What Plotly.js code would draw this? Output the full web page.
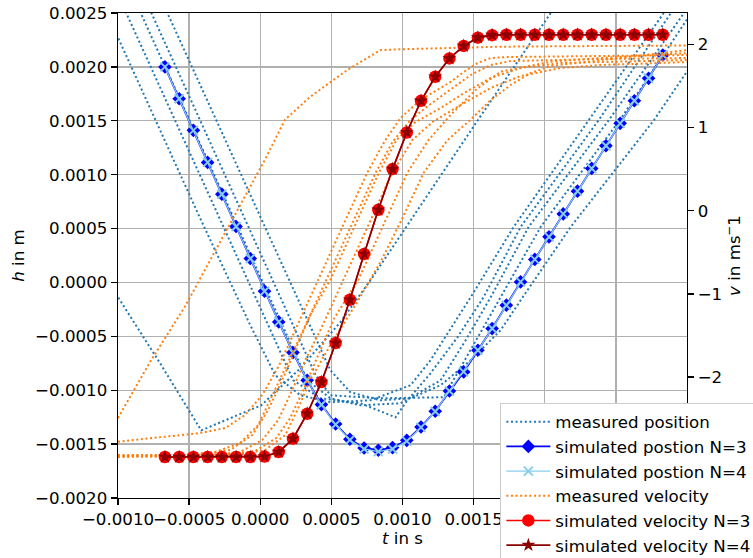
<!DOCTYPE html>
<html>
<head>
<meta charset="utf-8">
<script src="https://cdn.plot.ly/plotly-3.0.1.min.js"></script>
<style>html,body{margin:0;padding:0;background:#fff;}#chart{width:753px;height:558px;}</style>
</head>
<body>
<div id="chart"></div>
<script>
// ---------- simulated data ----------
const tSim = [-0.00067, -0.00057, -0.00047, -0.00037, -0.00027, -0.00017, -0.00007, 0.00003, 0.00013, 0.00023,
  0.00033, 0.00043, 0.00053, 0.00063, 0.00073, 0.00083, 0.00093, 0.00103, 0.00113, 0.00123,
  0.00133, 0.00143, 0.00153, 0.00163, 0.00173, 0.00183, 0.00193, 0.00203, 0.00213, 0.00223,
  0.00233, 0.00243, 0.00253, 0.00263, 0.00273, 0.00283];
const hSimN3 = [0.002000, 0.001704, 0.001411, 0.001114, 0.000819, 0.000519, 0.000222, -0.000081, -0.000366, -0.000651,
  -0.000908, -0.001133, -0.001313, -0.001455, -0.001536, -0.001557, -0.001532, -0.001465, -0.001341, -0.001195,
  -0.001007, -0.000830, -0.000629, -0.000428, -0.000211, 0.000005, 0.000214, 0.000423, 0.000636, 0.000847,
  0.001058, 0.001268, 0.001476, 0.001686, 0.001894, 0.002110];
const hSimN4 = [0.002000, 0.001704, 0.001411, 0.001114, 0.000819, 0.000519, 0.000222, -0.000081, -0.000366, -0.000651,
  -0.000908, -0.001135, -0.001318, -0.001462, -0.001545, -0.001570, -0.001545, -0.001472, -0.001345, -0.001197,
  -0.001008, -0.000830, -0.000629, -0.000428, -0.000211, 0.000005, 0.000214, 0.000423, 0.000636, 0.000847,
  0.001058, 0.001268, 0.001476, 0.001686, 0.001894, 0.002110];
const vSimN3 = [-2.96, -2.96, -2.96, -2.96, -2.96, -2.96, -2.96, -2.955, -2.90, -2.74,
  -2.44, -2.06, -1.59, -1.07, -0.52, 0.01, 0.50, 0.94, 1.32, 1.61,
  1.83, 1.98, 2.08, 2.11, 2.115, 2.115, 2.115, 2.115, 2.115, 2.115,
  2.115, 2.115, 2.115, 2.115, 2.115, 2.115];
const vSimN4 = [-2.96, -2.96, -2.96, -2.96, -2.96, -2.96, -2.96, -2.955, -2.90, -2.74,
  -2.44, -2.06, -1.59, -1.07, -0.52, 0.01, 0.50, 0.94, 1.32, 1.61,
  1.83, 1.98, 2.08, 2.11, 2.115, 2.115, 2.115, 2.115, 2.115, 2.115,
  2.115, 2.115, 2.115, 2.115, 2.115, 2.115];

// ---------- measured position (6 runs) ----------
const posT1 = [-0.00105, -0.001000, -0.000704, -0.000415, -0.000211, 0.000007, 0.000282, 0.000563, 0.000775, 0.001127, 0.001535, 0.002042, 0.002100];
const posH1 = [-0.000033, -0.000137, -0.000750, -0.001372, -0.001260, -0.001140, -0.000796, -0.000369, 0.000021, 0.000717, 0.001516, 0.002500, 0.002610];
const posT2 = [-0.00105, -0.000988, -0.000423, -0.000070, 0.000106, 0.000282, 0.000493, 0.000775, 0.001056, 0.001197, 0.001479, 0.001782, 0.002310, 0.002838, 0.002900];
const posH2 = [0.002420, 0.002237, 0.000597, -0.000397, -0.000861, -0.001047, -0.001112, -0.001093, -0.000954, -0.000722, -0.000137, 0.000516, 0.001507, 0.002500, 0.002620];
const posT3 = [-0.001000, -0.000942, 0.000232, 0.000423, 0.000704, 0.000824, 0.000951, 0.001035, 0.001197, 0.001387, 0.001570, 0.001831, 0.002380, 0.002887, 0.002950];
const posH3 = [0.002670, 0.002500, -0.000908, -0.001075, -0.001121, -0.001186, -0.001251, -0.001093, -0.000843, -0.000508, -0.000137, 0.000516, 0.001507, 0.002500, 0.002620];
const posT4 = [-0.000900, -0.000840, 0.000331, 0.000493, 0.000704, 0.000986, 0.001268, 0.001444, 0.001620, 0.001887, 0.002451, 0.002979, 0.003050];
const posH4 = [0.002674, 0.002500, -0.000908, -0.001075, -0.001140, -0.001121, -0.000908, -0.000536, -0.000137, 0.000516, 0.001507, 0.002500, 0.002620];
const posT5 = [-0.000820, -0.000765, 0.000390, 0.000493, 0.000845, 0.001289, 0.001479, 0.001690, 0.001972, 0.002528, 0.003007];
const posH5 = [0.002660, 0.002500, -0.000861, -0.001047, -0.001075, -0.001065, -0.000629, -0.000137, 0.000516, 0.001507, 0.002454];
const posT6 = [-0.000700, -0.000653, 0.000282, 0.000493, 0.000634, 0.000845, 0.001056, 0.001268, 0.001479, 0.001690, 0.001845, 0.002183, 0.002768, 0.003007];
const posH6 = [0.002636, 0.002500, -0.000211, -0.000815, -0.001019, -0.001093, -0.001075, -0.000954, -0.000722, -0.000443, -0.000137, 0.000516, 0.001507, 0.001971];

// ---------- measured velocity (7 runs) ----------
const velT1 = [-0.001000, -0.000766, -0.000530, -0.000319, -0.000132, 0.000033, 0.000174, 0.000352, 0.000611, 0.000845, 0.000986, 0.001690, 0.003007];
const velV1 = [-2.491, -1.794, -1.154, -0.488, 0.093, 0.613, 1.094, 1.370, 1.690, 1.931, 1.940, 1.971, 1.986];
const velT2 = [-0.001000, -0.000704, -0.000423, -0.000246, -0.000106, 0.000014, 0.000134, 0.000246, 0.000408, 0.000577, 0.000751, 0.000880, 0.000986, 0.001127, 0.001246, 0.001338, 0.001430, 0.001528, 0.001620, 0.001739, 0.002394, 0.003007];
const velV2 = [-2.776, -2.720, -2.672, -2.612, -2.455, -2.215, -1.854, -1.434, -0.829, -0.196, 0.453, 0.850, 1.114, 1.331, 1.451, 1.547, 1.667, 1.775, 1.835, 1.847, 1.859, 1.871];
const velT3 = [-0.001000, -0.000563, -0.000317, -0.000141, -0.000014, 0.000070, 0.000190, 0.000303, 0.000465, 0.000634, 0.000810, 0.000930, 0.001056, 0.001197, 0.001338, 0.001479, 0.001620, 0.001761, 0.002394, 0.003007];
const velV3 = [-2.936, -2.936, -2.900, -2.792, -2.575, -2.275, -1.854, -1.434, -0.829, -0.196, 0.453, 0.826, 1.090, 1.282, 1.451, 1.631, 1.751, 1.799, 1.823, 1.835];
const velT4 = [-0.001000, -0.000423, -0.000211, -0.000056, 0.000056, 0.000155, 0.000261, 0.000352, 0.000493, 0.000662, 0.000833, 0.000958, 0.001092, 0.001268, 0.001444, 0.001620, 0.001831, 0.002113, 0.003007];
const velV4 = [-2.948, -2.936, -2.876, -2.696, -2.395, -2.035, -1.614, -1.254, -0.829, -0.196, 0.453, 0.850, 1.066, 1.234, 1.426, 1.595, 1.715, 1.775, 1.811];
const velT5 = [-0.001000, -0.000423, -0.000141, 0.000014, 0.000127, 0.000225, 0.000317, 0.000423, 0.000585, 0.000754, 0.000927, 0.001070, 0.001211, 0.001408, 0.001620, 0.001831, 0.002113, 0.002394, 0.003007];
const velV5 = [-2.948, -2.948, -2.900, -2.756, -2.515, -2.155, -1.794, -1.434, -0.829, -0.196, 0.453, 0.850, 1.066, 1.270, 1.475, 1.619, 1.715, 1.751, 1.787];
const velT6 = [-0.001000, -0.000211, 0.000035, 0.000176, 0.000261, 0.000352, 0.000493, 0.000669, 0.000845, 0.000986, 0.001148, 0.001317, 0.001479, 0.001620, 0.001761, 0.001901, 0.002042, 0.002394, 0.002746, 0.003007];
const velV6 = [-2.960, -2.948, -2.876, -2.696, -2.395, -2.035, -1.614, -1.133, -0.617, -0.136, 0.453, 0.850, 1.094, 1.331, 1.511, 1.655, 1.739, 1.811, 1.883, 1.931];
const velT7 = [-0.001000, -0.000317, -0.000035, 0.000113, 0.000211, 0.000303, 0.000408, 0.000521, 0.000690, 0.000859, 0.001033, 0.001183, 0.001338, 0.001514, 0.001690, 0.002042, 0.002394, 0.003007];
const velV7 = [-2.948, -2.948, -2.888, -2.732, -2.491, -2.155, -1.734, -1.290, -0.829, -0.196, 0.453, 0.850, 1.150, 1.451, 1.671, 1.791, 1.835, 1.895];

// ---------- labels ----------
const legendNames = ['measured position', 'simulated postion N=3', 'simulated postion N=4',
  'measured velocity', 'simulated velocity N=3', 'simulated velocity N=4'];
const xTitle = '<i>t</i> in s';
const yTitle = '<i>h</i> in m';
const y2Title = '<i>v</i> in ms<sup>\u2212</sup>1';

const measPos = [[posT1, posH1], [posT2, posH2], [posT3, posH3], [posT4, posH4], [posT5, posH5], [posT6, posH6]];
const measVel = [[velT1, velV1], [velT2, velV2], [velT3, velV3], [velT4, velV4], [velT5, velV5], [velT6, velV6], [velT7, velV7]];

const DOT = '2px,2.6px';
const traces = [];
measPos.forEach((d, i) => traces.push({
  x: d[0], y: d[1], type: 'scatter', mode: 'lines', yaxis: 'y',
  line: {color: '#1f77b4', width: 2, dash: DOT},
  name: legendNames[0], legendgroup: 'mp', showlegend: i === 0
}));
traces.push({x: tSim, y: hSimN3, type: 'scatter', mode: 'lines+markers', yaxis: 'y',
  line: {color: '#0000ff', width: 1.8}, marker: {symbol: 'diamond', size: 10.5, color: '#0000ff'},
  name: legendNames[1]});
traces.push({x: tSim, y: hSimN4, type: 'scatter', mode: 'lines+markers', yaxis: 'y',
  line: {color: '#87ceeb', width: 1.2}, marker: {symbol: 'x-thin', size: 9, color: '#87ceeb', line: {color: '#87ceeb', width: 2}},
  name: legendNames[2]});
measVel.forEach((d, i) => traces.push({
  x: d[0], y: d[1], type: 'scatter', mode: 'lines', yaxis: 'y2',
  line: {color: '#ff7f0e', width: 2, dash: DOT},
  name: legendNames[3], legendgroup: 'mv', showlegend: i === 0
}));
traces.push({x: tSim, y: vSimN3, type: 'scatter', mode: 'lines+markers', yaxis: 'y2',
  line: {color: '#ff0000', width: 1.6}, marker: {symbol: 'circle', size: 12.5, color: '#ff0000'},
  name: legendNames[4]});
traces.push({x: tSim, y: vSimN4, type: 'scatter', mode: 'lines+markers', yaxis: 'y2',
  line: {color: '#8b0000', width: 1.6}, marker: {symbol: 'star', size: 10.5, color: '#8b0000'},
  name: legendNames[5]});

const FONT = 'DejaVu Sans, Liberation Sans, sans-serif';
const axisCommon = {
  showline: true, linecolor: 'black', linewidth: 1.33,
  ticks: 'outside', ticklen: 6, tickwidth: 1.33, tickcolor: 'black',
  zeroline: false, tickfont: {family: FONT, size: 16.67, color: 'black'}
};
const layout = {
  width: 753, height: 558,
  margin: {l: 118, r: 66, t: 13, b: 60, pad: 0, autoexpand: false},
  paper_bgcolor: 'white', plot_bgcolor: 'white',
  font: {family: FONT, size: 16.67, color: 'black'},
  showlegend: true,
  legend: {x: 0.672, y: 0.195, xanchor: 'left', yanchor: 'top', itemwidth: 44,
    bgcolor: '#ffffff', bordercolor: '#cccccc', borderwidth: 1,
    font: {family: FONT, size: 16.67, color: 'black'}, traceorder: 'normal', tracegroupgap: 0},
  xaxis: Object.assign({}, axisCommon, {
    range: [-0.001, 0.003], tick0: 0, dtick: 0.0005, tickformat: '.4f', tickangle: 0,
    showgrid: true, gridcolor: '#b0b0b0', gridwidth: 1.33, mirror: true,
    title: {text: xTitle, font: {family: FONT, size: 16.67}, standoff: 4}
  }),
  yaxis: Object.assign({}, axisCommon, {
    range: [-0.002, 0.0025], tick0: 0, dtick: 0.0005, tickformat: '.4f',
    showgrid: true, gridcolor: '#b0b0b0', gridwidth: 1.33,
    title: {text: yTitle, font: {family: FONT, size: 16.67}, standoff: 6}
  }),
  yaxis2: Object.assign({}, axisCommon, {
    overlaying: 'y', side: 'right', range: [-3.453, 2.376], tick0: 0, dtick: 1,
    showgrid: false,
    title: {text: y2Title, font: {family: FONT, size: 16.67}, standoff: 6}
  })
};
Plotly.newPlot('chart', traces, layout, {displayModeBar: false, staticPlot: true});
</script>
</body>
</html>
